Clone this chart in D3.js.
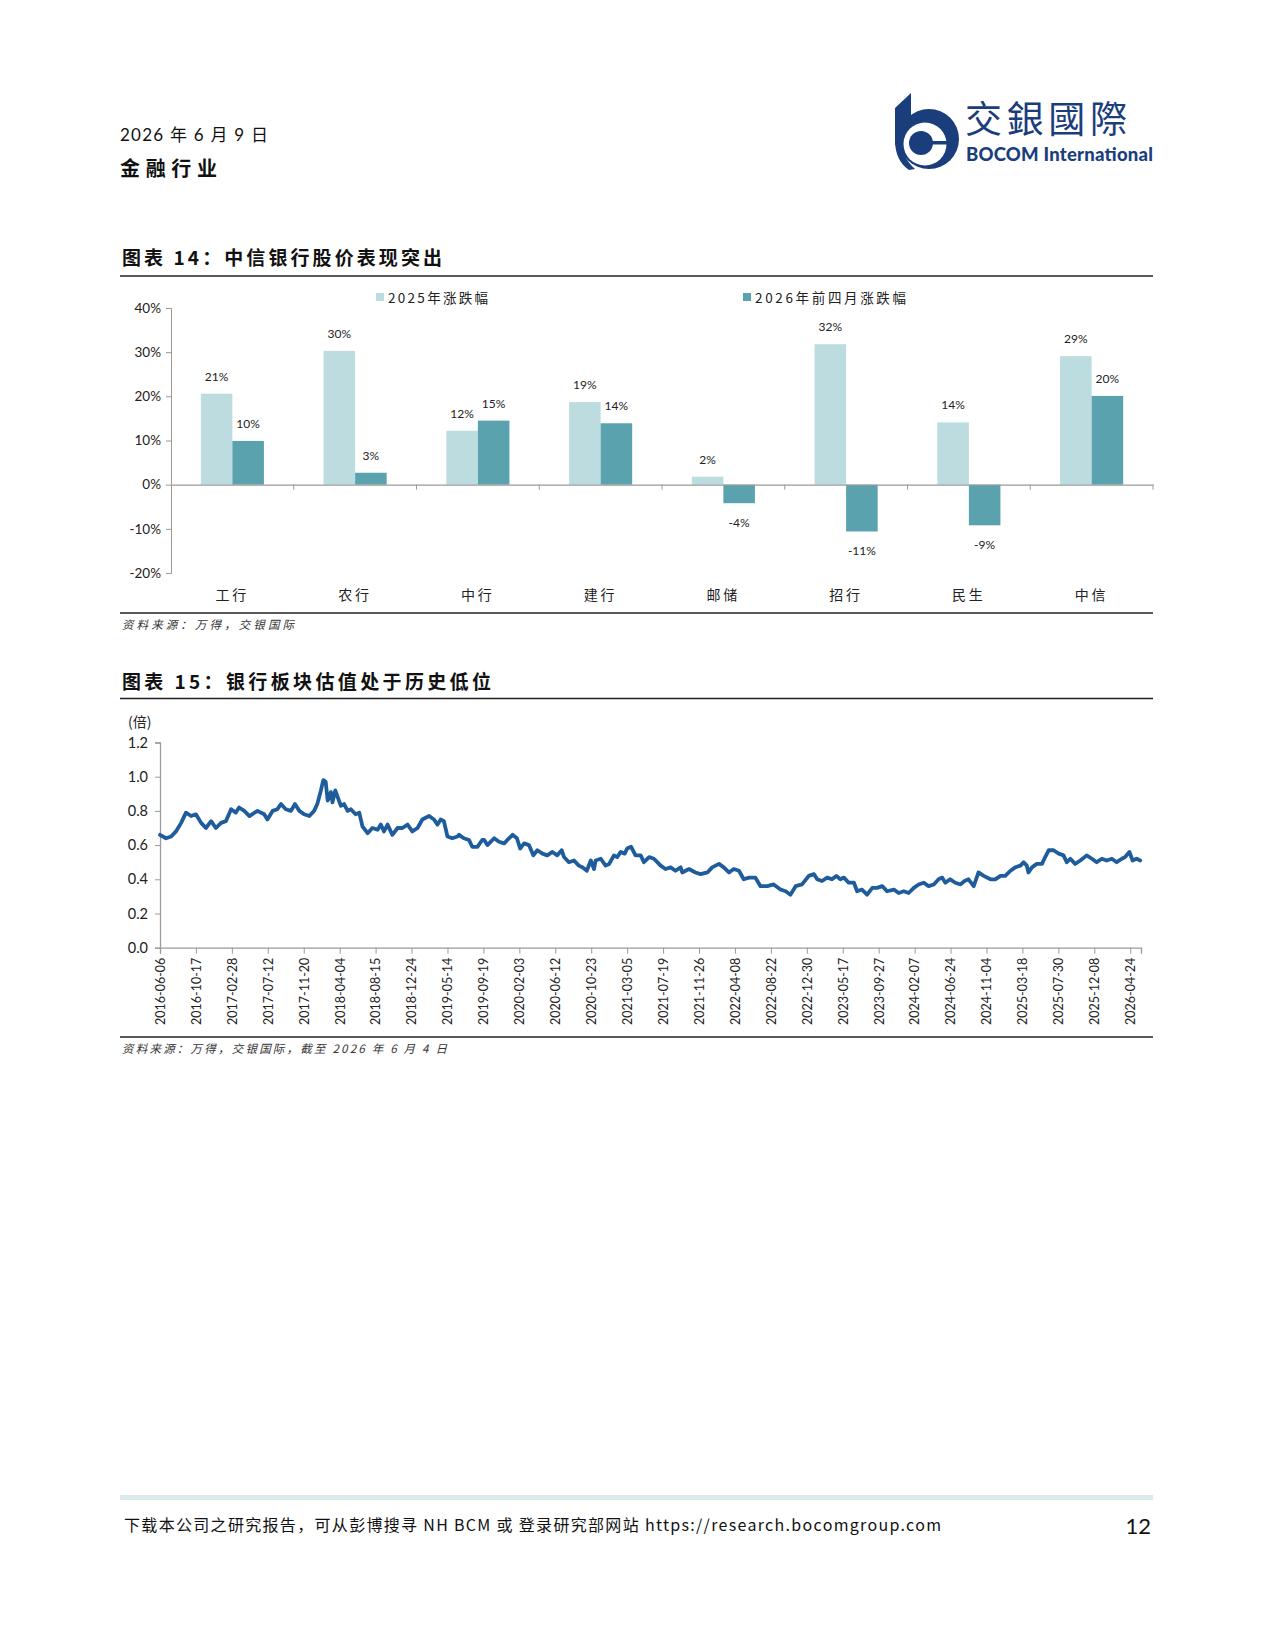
<!DOCTYPE html>
<html><head><meta charset="utf-8">
<script src="https://cdn.jsdelivr.net/npm/d3@7"></script>
<style>
body{margin:0;background:#fff;}
svg{display:block;}
text{font-family:Lato,"Noto Sans CJK SC",sans-serif;}
.cjk{font-family:"Noto Sans CJK SC",sans-serif;}
</style></head>
<body>
<svg id="page" width="1275" height="1650"></svg>
<script>
// ---------- Chart 14 data ----------
const categories = ['工行','农行','中行','建行','邮储','招行','民生','中信'];
const chg2025 = [20.6, 30.3, 12.2, 18.7, 1.8, 31.8, 14.1, 29.1];
const chg2026 = [9.9, 2.7, 14.5, 13.9, -4.2, -10.6, -9.2, 20.1];
const seriesNames = ['2025年涨跌幅', '2026年前四月涨跌幅'];
const yTicks14 = [-20, -10, 0, 10, 20, 30, 40];

// ---------- Chart 15 data ----------
const pbTickLabels = ['2016-06-06','2016-10-17','2017-02-28','2017-07-12','2017-11-20','2018-04-04','2018-08-15','2018-12-24','2019-05-14','2019-09-19','2020-02-03','2020-06-12','2020-10-23','2021-03-05','2021-07-19','2021-11-26','2022-04-08','2022-08-22','2022-12-30','2023-05-17','2023-09-27','2024-02-07','2024-06-24','2024-11-04','2025-03-18','2025-07-30','2025-12-08','2026-04-24'];
const tradingDaysPerLabel = 90;
const totalTradingDays = 2457;
const yTicks15 = [0, 0.2, 0.4, 0.6, 0.8, 1.0, 1.2];
// [trading-day index, P/B (x)]
const pbSeries = [
[0,0.66],[15,0.64],[28,0.65],[40,0.68],[53,0.73],[65,0.79],[78,0.77],[90,0.78],[103,0.73],[115,0.70],[128,0.74],[140,0.70],[153,0.73],[165,0.74],[178,0.81],[190,0.79],[198,0.82],[211,0.80],[224,0.77],[244,0.80],[261,0.78],[269,0.75],[282,0.80],[294,0.81],[303,0.84],[315,0.81],[328,0.80],[338,0.84],[349,0.80],[361,0.78],[374,0.77],[386,0.80],[394,0.84],[403,0.92],[409,0.98],[415,0.97],[420,0.86],[428,0.91],[432,0.85],[439,0.92],[445,0.88],[453,0.83],[461,0.84],[470,0.80],[478,0.81],[490,0.78],[499,0.79],[507,0.71],[520,0.67],[532,0.70],[545,0.69],[553,0.72],[561,0.68],[570,0.72],[582,0.66],[595,0.70],[607,0.70],[620,0.72],[632,0.68],[645,0.70],[657,0.75],[674,0.77],[686,0.75],[695,0.72],[703,0.75],[711,0.74],[720,0.65],[732,0.64],[745,0.65],[749,0.66],[761,0.64],[774,0.63],[782,0.59],[795,0.59],[807,0.63],
[812,0.63],[820,0.60],[837,0.64],[849,0.62],[862,0.61],[870,0.63],[883,0.66],[894,0.64],[902,0.58],[912,0.61],[924,0.60],[935,0.54],[945,0.57],[958,0.55],[970,0.54],[983,0.56],[995,0.54],[1006,0.57],[1012,0.53],[1024,0.50],[1037,0.51],[1049,0.48],[1058,0.47],[1069,0.45],[1079,0.51],[1087,0.46],[1091,0.51],[1104,0.52],[1116,0.48],[1125,0.49],[1137,0.54],[1145,0.53],[1154,0.56],[1164,0.55],[1170,0.58],[1180,0.59],[1191,0.54],[1204,0.54],[1212,0.50],[1225,0.53],[1237,0.52],[1254,0.48],[1266,0.46],[1279,0.47],[1291,0.45],[1304,0.47],[1308,0.44],[1325,0.46],[1341,0.44],[1354,0.43],[1371,0.44],[1383,0.47],[1400,0.49],[1412,0.47],[1425,0.44],[1437,0.46],[1450,0.45],[1462,0.40],[1475,0.41],[1491,0.41],[1504,0.36],[1521,0.36],[1537,0.37],[1554,0.34],[1567,0.33],[1579,0.31],[1592,0.36],[1608,0.37],[1625,0.42],
[1638,0.43],[1646,0.40],[1658,0.39],[1671,0.41],[1683,0.40],[1694,0.42],[1704,0.40],[1713,0.41],[1725,0.38],[1738,0.38],[1746,0.33],[1758,0.34],[1771,0.31],[1784,0.35],[1796,0.35],[1809,0.36],[1821,0.33],[1838,0.34],[1850,0.32],[1863,0.33],[1875,0.32],[1888,0.35],[1900,0.37],[1913,0.38],[1925,0.36],[1938,0.37],[1950,0.40],[1959,0.41],[1967,0.38],[1979,0.40],[1992,0.38],[2005,0.37],[2015,0.39],[2025,0.40],[2038,0.36],[2050,0.44],[2063,0.42],[2080,0.40],[2092,0.40],[2105,0.42],[2117,0.42],[2130,0.45],[2142,0.47],[2155,0.48],[2163,0.50],[2171,0.48],[2175,0.44],[2184,0.47],[2196,0.49],[2209,0.49],[2217,0.53],[2226,0.57],[2238,0.57],[2251,0.55],[2263,0.54],[2271,0.50],[2280,0.52],[2292,0.49],[2305,0.51],[2321,0.54],[2334,0.52],[2346,0.50],[2359,0.52],[2371,0.51],[2384,0.52],[2396,0.50],[2409,0.52],[2417,0.53],[2428,0.56],[2436,0.51],[2446,0.52],[2455,0.51]
];

// ---------- Page texts ----------
const reportDate = '2026 年 6 月 9 日';
const sector = '金融行业';
const title14 = '图表 14：中信银行股价表现突出';
const source14 = '资料来源：万得，交银国际';
const title15 = '图表 15：银行板块估值处于历史低位';
const unit15 = '(倍)';
const source15 = '资料来源：万得，交银国际，截至 2026 年 6 月 4 日';
const footerText = '下载本公司之研究报告，可从彭博搜寻 NH BCM  或 登录研究部网站 https://research.bocomgroup.com';
const pageNo = '12';

const colLight = '#BDDCE0', colDark = '#5AA2AE', navy = '#1A3D7C', axisCol = '#9A9A9A';
const svg = d3.select('#page');

function txt(x, y, s, size, opts = {}) {
  const t = svg.append('text').attr('x', x).attr('y', y).attr('font-size', size).attr('fill', opts.fill || '#111').text(s);
  if (opts.cjk) t.attr('class', 'cjk');
  if (opts.bold) t.attr('font-weight', opts.weight || 700);
  if (opts.italic) t.attr('font-style', 'italic');
  if (opts.len) t.attr('textLength', opts.len).attr('lengthAdjust', 'spacing');
  if (opts.anchor) t.attr('text-anchor', opts.anchor);
  return t;
}

// ---------- Header ----------
txt(120, 141, reportDate, 17, {len: 148});
txt(120, 176, sector, 20, {cjk: true, bold: true, len: 97});

// logo
const logo = svg.append('g');
logo.append('circle').attr('cx', 929).attr('cy', 139).attr('r', 30).attr('fill', navy);
logo.append('path').attr('fill', navy).attr('d', 'M895,108 L911,93 L911,140 L895,145 Z');
logo.append('path').attr('fill', navy).attr('d', 'M895,140 C895,154 900,164 909,170 L915,169 C906,161 902,152 902,140 Z');
logo.append('circle').attr('cx', 925).attr('cy', 144).attr('r', 21.5).attr('fill', '#fff');
logo.append('circle').attr('cx', 921).attr('cy', 143).attr('r', 12).attr('fill', navy);
logo.append('rect').attr('x', 924).attr('y', 141).attr('width', 30).attr('height', 3.5).attr('fill', navy);
txt(965, 133, '交銀國際', 37, {cjk: true, fill: navy, len: 162});
txt(966, 160.5, 'BOCOM International', 18.5, {bold: true, weight: 900, fill: navy, len: 187});

// ---------- Chart 14 ----------
const L = 120, R = 1153;
txt(122, 265, title14, 19, {cjk: true, bold: true, len: 320});
svg.append('line').attr('x1', L).attr('x2', R).attr('y1', 276).attr('y2', 276).attr('stroke', '#222').attr('stroke-width', 1.6);

const x14 = d3.scaleBand().domain(categories).range([171, 1153]).padding(0);
const y14 = d3.scaleLinear().domain([-20, 40]).range([573, 308]);
const barW = x14.bandwidth() * 0.257;

const g14 = svg.append('g');
categories.forEach((c, i) => {
  const cx = x14(c) + x14.bandwidth() / 2;
  [[chg2025[i], colLight, cx - barW], [chg2026[i], colDark, cx]].forEach(([v, col, bx]) => {
    g14.append('rect').attr('x', bx).attr('width', barW)
      .attr('y', y14(Math.max(0, v))).attr('height', Math.abs(y14(v) - y14(0)))
      .attr('fill', col);
    const ly = v >= 0 ? y14(v) - 13 : y14(v) + 24;
    g14.append('text').attr('x', bx + barW / 2).attr('y', ly).attr('text-anchor', 'middle')
      .attr('font-size', 12).attr('fill', '#222').text(`${Math.round(v)}%`);
  });
});
const yAx14 = g14.append('g').attr('transform', 'translate(171,0)')
  .call(d3.axisLeft(y14).tickValues(yTicks14).tickSize(5).tickFormat(d => `${d}%`));
yAx14.select('.domain').attr('stroke', axisCol);
yAx14.selectAll('line').attr('stroke', axisCol);
yAx14.selectAll('text').attr('font-size', 13.5).attr('fill', '#222').attr('font-family', 'Lato,sans-serif').attr('x', -10);
const xAx14 = g14.append('g').attr('transform', `translate(0,${y14(0)})`)
  .call(d3.axisBottom(x14).tickSize(0).tickFormat(''));
xAx14.select('.domain').attr('stroke', axisCol).attr('stroke-width', 1.2);
categories.forEach((c, i) => {
  const xx = x14(c) + x14.bandwidth();
  g14.append('line').attr('x1', xx).attr('x2', xx).attr('y1', y14(0)).attr('y2', y14(0) + 5).attr('stroke', axisCol);
});
categories.forEach(c => {
  g14.append('text').attr('class', 'cjk').attr('x', x14(c) + x14.bandwidth() / 2).attr('y', 600)
    .attr('text-anchor', 'middle').attr('font-size', 14).attr('fill', '#222').attr('letter-spacing', 3).text(c);
});
[[376, colLight, seriesNames[0], 100], [743, colDark, seriesNames[1], 151]].forEach(([lx, col, name, len]) => {
  g14.append('rect').attr('x', lx).attr('y', 293).attr('width', 8).attr('height', 8).attr('fill', col);
  g14.append('text').attr('class', 'cjk').attr('x', lx + 12).attr('y', 303).attr('font-size', 13.5).attr('fill', '#222')
    .attr('textLength', len).attr('lengthAdjust', 'spacing').text(name);
});
svg.append('line').attr('x1', L).attr('x2', R).attr('y1', 613).attr('y2', 613).attr('stroke', '#222').attr('stroke-width', 1.4);
txt(122, 629, source14, 11.5, {cjk: true, italic: true, fill: '#333', len: 172});

// ---------- Chart 15 ----------
txt(122, 689, title15, 19, {cjk: true, bold: true, len: 369});
svg.append('line').attr('x1', L).attr('x2', R).attr('y1', 698.5).attr('y2', 698.5).attr('stroke', '#222').attr('stroke-width', 1.6);
txt(128, 727, unit15, 14, {cjk: true, fill: '#222'});

const x15 = d3.scaleLinear().domain([0, totalTradingDays]).range([160, 1141]);
const y15 = d3.scaleLinear().domain([0, 1.2]).range([947.7, 742.5]);
const g15 = svg.append('g');
const yAx15 = g15.append('g').attr('transform', 'translate(160,0)')
  .call(d3.axisLeft(y15).tickValues(yTicks15).tickSize(5).tickFormat(d3.format('.1f')));
yAx15.select('.domain').attr('stroke', axisCol).attr('stroke-width', 1.3);
yAx15.selectAll('line').attr('stroke', axisCol);
yAx15.selectAll('text').attr('font-size', 14.5).attr('fill', '#222').attr('x', -12);

const tickIdx = pbTickLabels.map((d, i) => i * tradingDaysPerLabel);
const xAx15 = g15.append('g').attr('transform', `translate(0,${y15(0)})`)
  .call(d3.axisBottom(x15).tickValues(tickIdx).tickSize(6).tickFormat((d, i) => pbTickLabels[i]));
xAx15.select('.domain').attr('stroke', axisCol).attr('stroke-width', 1.3);
xAx15.selectAll('line').attr('stroke', axisCol);
xAx15.selectAll('text').attr('font-size', 12.5).attr('fill', '#222')
  .attr('text-anchor', 'end').attr('transform', 'rotate(-90)').attr('x', -10).attr('y', 0).attr('dy', '0.35em');

g15.append('path').datum(pbSeries)
  .attr('d', d3.line().x(d => x15(d[0])).y(d => y15(d[1])))
  .attr('fill', 'none').attr('stroke', '#1F5C9C').attr('stroke-width', 3.8).attr('stroke-linejoin', 'round').attr('stroke-linecap', 'round');

svg.append('line').attr('x1', L).attr('x2', R).attr('y1', 1037).attr('y2', 1037).attr('stroke', '#222').attr('stroke-width', 1.4);
txt(122, 1053, source15, 11.5, {cjk: true, italic: true, fill: '#333', len: 325});

// ---------- Footer ----------
svg.append('rect').attr('x', L).attr('y', 1495).attr('width', R - L).attr('height', 5).attr('fill', '#DCEAEE');
txt(124, 1531, footerText, 16, {cjk: true, len: 817});
txt(1151, 1534, pageNo, 22, {anchor: 'end'});
</script>
</body></html>
